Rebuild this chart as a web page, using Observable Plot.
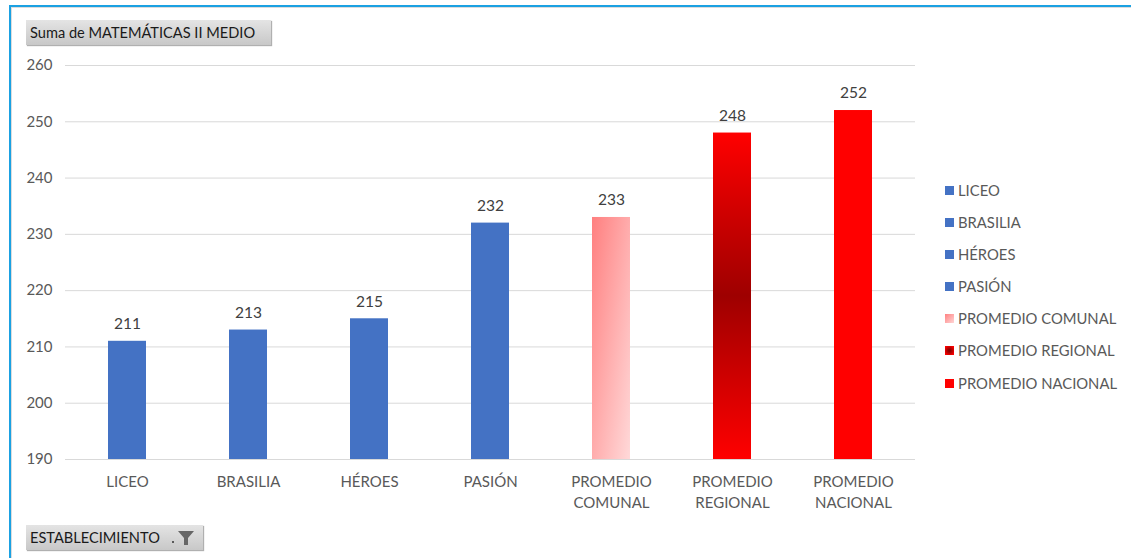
<!DOCTYPE html>
<html><head><meta charset="utf-8">
<script src="https://cdn.jsdelivr.net/npm/d3@7"></script>
<script src="https://cdn.jsdelivr.net/npm/@observablehq/plot@0.6"></script>
<style>
body{margin:0;background:#fff;font-family:Lato,"Open Sans",sans-serif;}
#wrap{position:relative;width:1131px;height:558px;overflow:hidden;background:#fff}
#chart{position:absolute;left:0;top:0}
.ftop{position:absolute;left:9px;top:5px;width:1122px;height:2px;background:#1BA1E2}
.fleft{position:absolute;left:9px;top:5px;width:2px;height:553px;background:#1BA1E2}
.itop{position:absolute;left:11px;top:7px;width:1120px;height:1px;background:#dcdcdc}
.ileft{position:absolute;left:11px;top:7px;width:1px;height:551px;background:#dcdcdc}
.btn{position:absolute;background:linear-gradient(#e4e4e4,#c8c8c8);box-shadow:1px 1px 1px #b0b0b0;color:#1a1a1a;font-size:14.6px;line-height:25px;height:25px;padding-left:4px;box-sizing:border-box;white-space:nowrap}
#legend{position:absolute;left:945px;top:0;font-size:14.8px;color:#595959}
.row{position:absolute;left:0;height:16px;display:flex;align-items:center;white-space:nowrap}
.sw{width:9px;height:9px;margin-right:4px}
</style></head>
<body><div id="wrap">
<div id="chart"></div>
<div class="ftop"></div><div class="fleft"></div><div class="itop"></div><div class="ileft"></div>
<div class="btn" style="left:26px;top:20px;width:245px;">Suma de MATEMÁTICAS II MEDIO</div>
<div class="btn" style="left:26px;top:525px;width:177px;">ESTABLECIMIENTO
<svg style="position:absolute;left:146px;top:5px" width="26" height="17"><rect x="0" y="11" width="2" height="2" fill="#595959"/><polygon points="6,1 22,1 16,8 16,15 12,15 12,8" fill="#666"/></svg></div>
<div id="legend"></div>
</div>
<script>
const categories = ["LICEO","BRASILIA","HÉROES","PASIÓN","PROMEDIO COMUNAL","PROMEDIO REGIONAL","PROMEDIO NACIONAL"];
const values = [211,213,215,232,233,248,252];
const yTicks = [190,200,210,220,230,240,250,260];

const barFills = ["#4472C4","#4472C4","#4472C4","#4472C4","url(#gComunal)","url(#gRegional)","#FF0000"];
const swatchFills = ["#4472C4","#4472C4","#4472C4","#4472C4","linear-gradient(135deg,#ff8080,#ffd6d6)","radial-gradient(circle,#8a0000 15%,#ff0000 85%)","#FF0000"];

const data = categories.map((c,i)=>({cat:c, value:values[i]}));

const chart = Plot.plot({
  width:1131, height:558,
  marginTop:65, marginBottom:99, marginLeft:65, marginRight:216,
  style:{fontFamily:"Lato, 'Open Sans', sans-serif", fontSize:"15px", color:"#595959", background:"transparent", overflow:"visible"},
  x:{domain:categories, paddingInner:0.69, paddingOuter:0.345, label:null},
  y:{domain:[190,260], label:null},
  color:{domain:categories, range:barFills},
  marks:[
    Plot.gridY({ticks:yTicks, stroke:"#d9d9d9", strokeOpacity:1, strokeWidth:1}),
    Plot.barY(data,{x:"cat", y1:190, y2:"value", fill:"cat"}),
    Plot.text(data,{x:"cat", y:"value", text:d=>String(d.value), dy:-17, fontSize:15.5, fill:"#404040"}),
    Plot.axisY({ticks:yTicks, tickSize:0, tickPadding:13, fontSize:15, fill:"#595959", label:null}),
    Plot.axisX({tickSize:0, tickPadding:13, fontSize:15, fill:"#595959", lineHeight:1.4, label:null,
      tickFormat:d=>d.replace("PROMEDIO ","PROMEDIO\n")})
  ]
});

const defs = d3.select(chart).insert("defs",":first-child");
const gc = defs.append("linearGradient").attr("id","gComunal").attr("x1",0).attr("y1",0).attr("x2",1).attr("y2",1);
gc.append("stop").attr("offset",0).attr("stop-color","#FF7F7F");
gc.append("stop").attr("offset",1).attr("stop-color","#FFD9D9");
const gr = defs.append("linearGradient").attr("id","gRegional").attr("x1",0).attr("y1",0).attr("x2",0).attr("y2",1);
gr.append("stop").attr("offset",0).attr("stop-color","#FF0000");
gr.append("stop").attr("offset",0.5).attr("stop-color","#9E0000");
gr.append("stop").attr("offset",1).attr("stop-color","#FF0000");

document.getElementById("chart").appendChild(chart);

const legend = d3.select("#legend");
const rowY = [190,222,254,286,318,350,383];
categories.forEach((c,i)=>{
  const r = legend.append("div").attr("class","row").style("top",(rowY[i]-8)+"px");
  r.append("div").attr("class","sw").style("background",swatchFills[i]);
  r.append("span").text(c);
});
</script>
</body></html>
